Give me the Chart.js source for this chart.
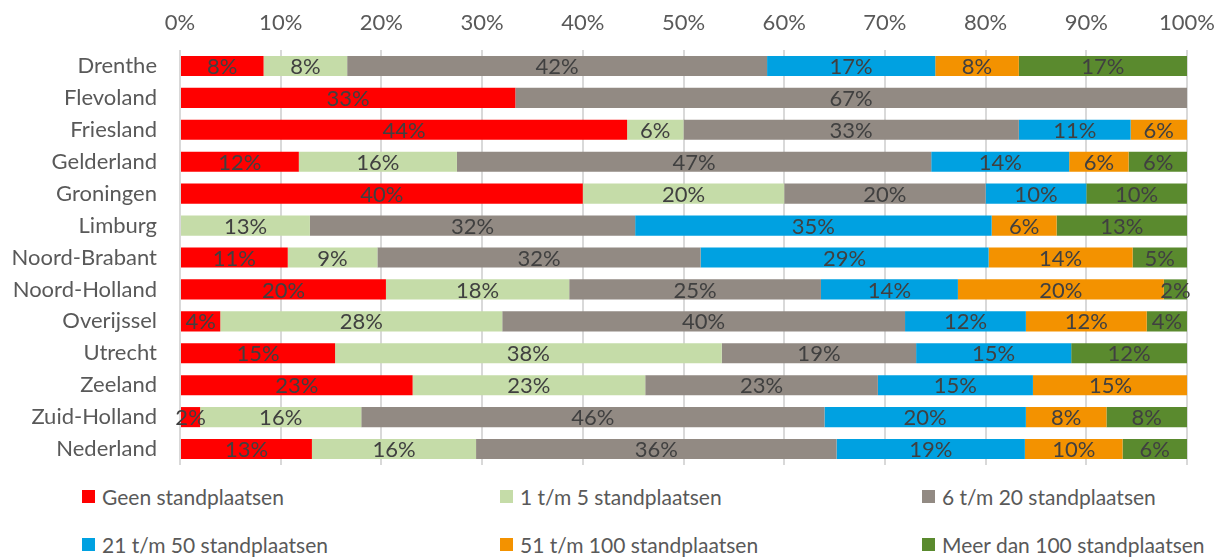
<!DOCTYPE html>
<html>
<head>
<meta charset="utf-8">
<script src="https://cdn.jsdelivr.net/npm/chart.js@4"></script>
<style>
  body{ margin:0; background:#fff; font-family:Lato, "Open Sans", sans-serif; }
  #wrap{ position:absolute; left:0; top:0; width:1232px; height:470px; }
  #legend{ position:absolute; left:0; top:470px; width:1232px; height:88px; }
  .lg{ position:absolute; display:flex; align-items:center; font-size:21px; color:#595959; white-space:nowrap; }
  .lg i{ display:inline-block; width:13px; height:13px; margin-right:7px; }
</style>
</head>
<body>
<div id="wrap"><canvas id="chart" width="1232" height="470"></canvas></div>
<div id="legend"></div>

<script>
/* =========================
   DATA
========================= */
const provinces = ["Drenthe","Flevoland","Friesland","Gelderland","Groningen","Limburg",
  "Noord-Brabant","Noord-Holland","Overijssel","Utrecht","Zeeland","Zuid-Holland","Nederland"]

const seriesNames = ["Geen standplaatsen","1 t/m 5 standplaatsen","6 t/m 20 standplaatsen",
  "21 t/m 50 standplaatsen","51 t/m 100 standplaatsen","Meer dan 100 standplaatsen"]

const geen      = [8.3, 33.3, 44.4, 11.8, 40, 0,    10.7, 20.45, 4,  15.4, 23.1, 2,  13.1]
const een5      = [8.3, 0,    5.6,  15.7, 20, 12.9, 8.9,  18.2,  28, 38.4, 23.1, 16, 16.3]
const zes20     = [41.7,66.7, 33.3, 47.1, 20, 32.3, 32.1, 25,    40, 19.3, 23.1, 46, 35.8]
const tw50      = [16.7,0,    11.1, 13.7, 10, 35.4, 28.6, 13.6,  12, 15.4, 15.4, 20, 18.7]
const vijf100   = [8.3, 0,    5.6,  5.9,  0,  6.45, 14.3, 20.45, 12, 0,    15.4, 8,  9.7]
const meer100   = [16.7,0,    0,    5.9,  10, 12.95,5.4,  2.3,   4,  11.5, 0,    8,  6.4]

const xTicks = [0,10,20,30,40,50,60,70,80,90,100]

const colors = ["#ff0000","#c5dca8","#928a83","#00a1e1","#f39200","#5a8a2e"]

/* =========================
   LABEL PLUGIN
========================= */
const barLabels = {
  id: "barLabels",
  afterDatasetsDraw(chart){
    const ctx = chart.ctx
    ctx.save()
    ctx.font = "22px Lato, 'Open Sans', sans-serif"
    ctx.fillStyle = "#404040"
    ctx.textAlign = "center"
    ctx.textBaseline = "middle"
    chart.data.datasets.forEach((ds, i) => {
      chart.getDatasetMeta(i).data.forEach((bar, j) => {
        const v = ds.data[j]
        if(!v) return
        const x = (bar.x + bar.base) / 2
        ctx.fillText(Math.round(v) + "%", x, bar.y + 1)
      })
    })
    ctx.restore()
  }
}

/* =========================
   CHART
========================= */
const seriesData = [geen, een5, zes20, tw50, vijf100, meer100]

const chart = new Chart(document.getElementById("chart"), {
  type: "bar",
  data: {
    labels: provinces,
    datasets: seriesNames.map((n, i) => ({
      label: n,
      data: seriesData[i],
      backgroundColor: colors[i],
      borderWidth: 0,
      barPercentage: 0.63,
      categoryPercentage: 1
    }))
  },
  options: {
    indexAxis: "y",
    responsive: false,
    animation: false,
    layout: { padding: { left: 0, right: 45, top: 0, bottom: 5 } },
    plugins: { legend: { display:false }, tooltip: { enabled:false } },
    scales: {
      x: {
        position: "top",
        stacked: true,
        min: 0,
        max: 100,
        afterBuildTicks: s => { s.ticks = xTicks.map(v => ({ value: v })) },
        afterFit: s => { s.height = 50 },
        grid: { color: "#d9d9d9", lineWidth: 2, drawTicks: false },
        border: { display: false },
        ticks: {
          padding: 14,
          color: "#595959",
          font: { family: "Lato", size: 22 },
          callback: v => v + "%"
        }
      },
      y: {
        stacked: true,
        afterFit: s => {
          s.width = 180
          s.paddingTop = 0
          s.paddingBottom = 0
        },
        grid: { display: false },
        border: { display: false },
        ticks: {
          padding: 15,
          color: "#595959",
          font: { family: "Lato", size: 22 }
        }
      }
    }
  },
  plugins: [barLabels]
})

/* =========================
   LEGEND
========================= */
const legendPos = [[82,27],[500,27],[922,27],[82,75],[500,75],[922,75]]
const legendEl = document.getElementById("legend")
legendEl.innerHTML = chart.data.datasets.map((ds, i) => `
  <div class="lg" style="left:${legendPos[i][0]}px; top:${legendPos[i][1] - 13}px">
    <i style="background:${ds.backgroundColor}"></i>${ds.label}
  </div>
`).join("")
</script>
</body>
</html>
